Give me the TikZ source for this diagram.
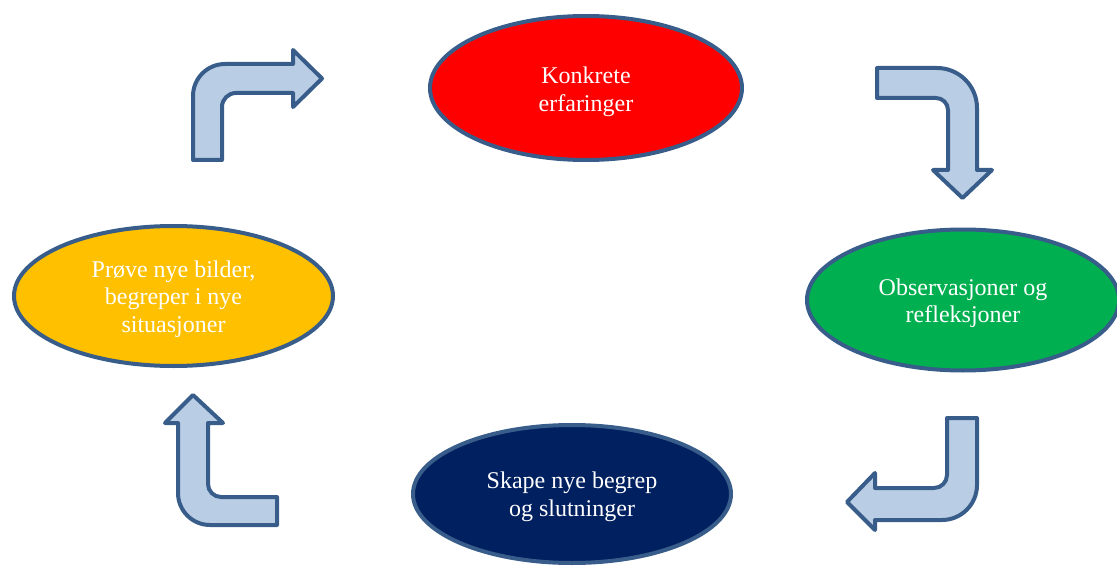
\documentclass[tikz,border=0pt]{standalone}
\usepackage{fontspec}
\setmainfont{Liberation Serif}
\usetikzlibrary{shapes.geometric}
\definecolor{edgeblue}{HTML}{385D8A}
\definecolor{arrowfill}{HTML}{B9CDE5}
\definecolor{cred}{HTML}{FF0000}
\definecolor{cgreen}{HTML}{00B050}
\definecolor{cnavy}{HTML}{002060}
\definecolor{cyellow}{HTML}{FFC000}
\tikzset{
  stage/.style={ellipse, draw=edgeblue, line width=4pt, inner sep=0pt},
  stagetext/.style={text=white, align=center, font=\fontsize{24pt}{27.5pt}\selectfont, inner sep=0pt},
  bentarrow/.style={draw=edgeblue, fill=arrowfill, line width=4pt, line join=round}
}
\begin{document}
\begin{tikzpicture}[x=1pt,y=-1pt]
\useasboundingbox (0,0) rectangle (1117,567);
\node[stage, fill=cred, minimum width=312pt, minimum height=144pt] (konk) at (586,88) {};
\node[stagetext] (konkt) at ([yshift=-4pt]konk.center) {Konkrete\\erfaringer};
\node[stage, fill=cgreen, minimum width=312pt, minimum height=141pt] (obs) at (963,300) {};
\node[stagetext] (obst) at ([yshift=-3pt]obs.center) {Observasjoner og\\refleksjoner};
\node[stage, fill=cnavy, minimum width=318pt, minimum height=138pt] (skape) at (572,494) {};
\node[stagetext] (skapet) at ([yshift=-3pt]skape.center) {Skape nye begrep\\og slutninger};
\node[stage, fill=cyellow, minimum width=319pt, minimum height=140pt] (prove) at (173.5,296) {};
\node[stagetext] (provet) at ([yshift=-3pt]prove.center) {Prøve nye bilder,\\begreper i nye\\situasjoner};
% top-left arrow
\draw[bentarrow] (193,160) -- (193,96) arc[start angle=180,end angle=90,radius=32pt] -- (293,64) -- (293,50) -- (322,78.5) -- (293,107) -- (293,93) -- (236,93) arc[start angle=90,end angle=180,radius=14pt] -- (222,160) -- cycle;
% top-right arrow
\draw[bentarrow] (877,68) -- (937,68) arc[start angle=90,end angle=0,radius=40pt] -- (977,170) -- (992,170) -- (962.5,198) -- (933,170) -- (948,170) -- (948,110) arc[start angle=0,end angle=90,radius=12pt] -- (877,98) -- cycle;
% bottom-right arrow
\draw[bentarrow] (947,418) -- (977,418) -- (977,485) arc[start angle=0,end angle=-90,radius=35pt] -- (875,520) -- (875,530) -- (847,502) -- (875,473) -- (875,488) -- (934,488) arc[start angle=-90,end angle=0,radius=13pt] -- cycle;
% bottom-left arrow
\draw[bentarrow] (277,497) -- (221,497) arc[start angle=-90,end angle=-180,radius=13pt] -- (208,423) -- (223,423) -- (193,395) -- (165,423) -- (178,423) -- (178,493) arc[start angle=180,end angle=270,radius=32pt] -- (277,525) -- cycle;
\end{tikzpicture}
\end{document}
